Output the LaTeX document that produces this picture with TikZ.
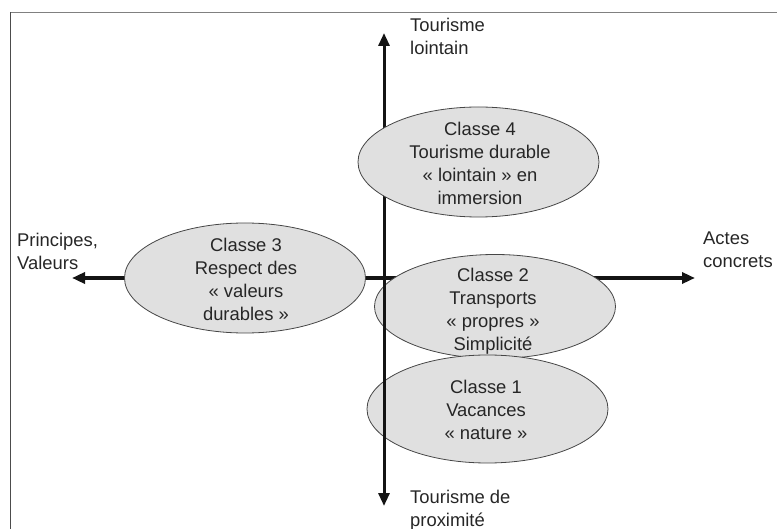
\documentclass[tikz,border=0pt]{standalone}
\usepackage{fontspec}
\setmainfont{Liberation Sans}
\usetikzlibrary{shapes.geometric,arrows.meta}
\definecolor{ellfill}{RGB}{224,224,224}
\definecolor{elldraw}{RGB}{70,70,70}
\definecolor{axiscol}{RGB}{20,20,20}
\tikzset{
  cls/.style={ellipse, draw=elldraw, line width=0.8pt, fill=ellfill, inner sep=0pt, outer sep=0pt, minimum width=241pt},
  clstext/.style={align=center, inner sep=0pt, font=\fontsize{18.4}{23}\selectfont, text=black!85},
  lbl/.style={align=left, inner sep=0pt, anchor=north west, font=\fontsize{18.4}{23}\selectfont, text=black!85},
  axis/.style={draw=axiscol, -{Triangle[length=13pt,width=11pt]}}
}
\begin{document}
\begin{tikzpicture}[x=1pt,y=-1pt]
\useasboundingbox (0,0) rectangle (777,529);
% frame
\draw[draw=black!50, line width=1.5pt] (777,12.5) -- (10.5,12.5);
\draw[draw=black!70, line width=1.2pt] (10.5,12.5) -- (10.5,529);
% axis coordinates
\coordinate (origin) at (384,278);
\coordinate (west) at (72,278);
\coordinate (east) at (695,278);
\coordinate (north) at (384,33);
\coordinate (south) at (384,506);
% horizontal axis
\draw[axis, line width=3.6pt] (origin) -- (west);
\draw[axis, line width=3.6pt] (origin) -- (east);
% ellipses
\node[cls, minimum height=110pt] (c3) at (245,278) {};
\node[cls, minimum height=104pt] (c2) at (495,306.5) {};
\node[cls, minimum height=108pt] (c1) at (487.5,409) {};
% vertical axis
\draw[axis, line width=3pt] (origin) -- (north);
\draw[axis, line width=3pt] (origin) -- (south);
\node[cls, minimum height=110pt] (c4) at (478.5,162) {};
% ellipse texts
\node[clstext] (t4) at (480,163) {Classe 4\\Tourisme durable\\« lointain » en\\immersion};
\node[clstext] (t3) at (246,279.5) {Classe 3\\Respect des\\« valeurs\\durables »};
\node[clstext] (t2) at (493,311) {Classe 2\\Transports\\« propres »\\Simplicité};
\node[clstext] (t1) at (486,410) {Classe 1\\Vacances\\« nature »};
% axis labels
\node[lbl] (ln) at (410,18) {Tourisme\\lointain};
\node[lbl] (ls) at (410,490) {Tourisme de\\proximité};
\node[lbl] (lw) at (17,233) {Principes,\\Valeurs};
\node[lbl] (le) at (703,232) {Actes\\concrets};
\end{tikzpicture}
\end{document}
